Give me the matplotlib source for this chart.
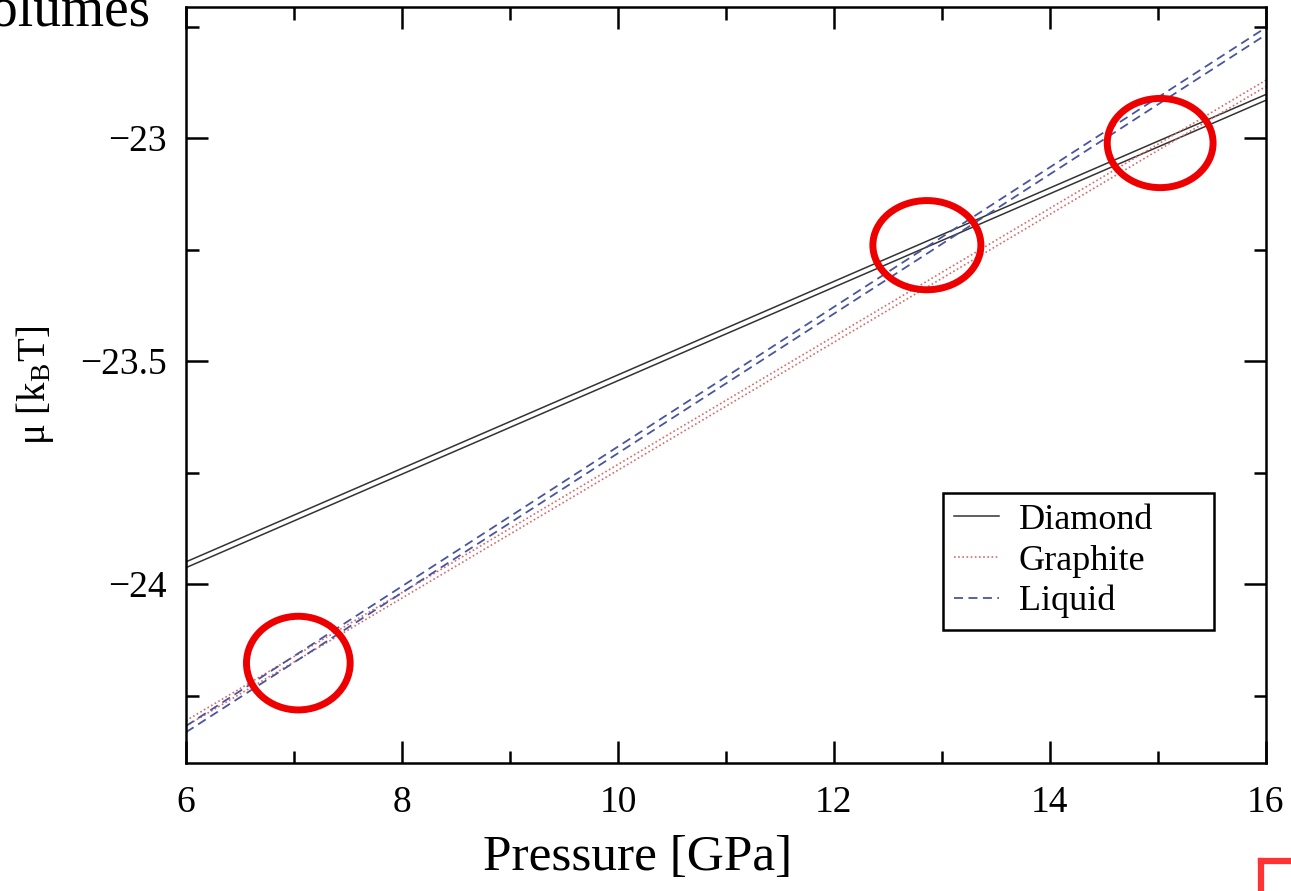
import numpy as np
import matplotlib
matplotlib.use("Agg")
import matplotlib.pyplot as plt
from matplotlib.patches import Ellipse, Rectangle
from matplotlib.lines import Line2D

plt.rcParams['font.family'] = ['Liberation Serif', 'DejaVu Serif']
plt.rcParams['mathtext.fontset'] = 'stix'

# endpoints of each (double) line, pressure in GPa, mu in kBT
pressure = [6, 16]
diamond_hi = [-23.950, -22.902]
diamond_lo = [-23.963, -22.915]
graphite_hi = [-24.306, -22.870]
graphite_lo = [-24.318, -22.884]
liquid_hi = [-24.318, -22.752]
liquid_lo = [-24.332, -22.768]

# highlighted crossings (centre P, centre mu, width, height)
circles = [(7.04, -24.177, 0.96, 0.21),
           (12.86, -23.240, 1.0, 0.20),
           (15.02, -23.011, 0.98, 0.20)]

xticks = [6, 8, 10, 12, 14, 16]
yticks = [-24, -23.5, -23]

fig = plt.figure(figsize=(12.91, 8.91), dpi=100)
ax = fig.add_axes([186 / 1291, 1 - 763 / 891, 1080 / 1291, 756 / 891])

ax.plot(pressure, diamond_hi, color='#333333', lw=1.1, ls='-', label='Diamond')
ax.plot(pressure, diamond_lo, color='#333333', lw=1.1, ls='-')
ax.plot(pressure, graphite_hi, color='#d86a6a', lw=1.2, ls=(0, (1, 1.5)), label='Graphite')
ax.plot(pressure, graphite_lo, color='#d86a6a', lw=1.2, ls=(0, (1, 1.5)))
ax.plot(pressure, liquid_hi, color='#4a55a0', lw=1.3, ls=(0, (5, 3)), label='Liquid')
ax.plot(pressure, liquid_lo, color='#4a55a0', lw=1.3, ls=(0, (5, 3)))

for cx, cy, w, h in circles:
    ax.add_patch(Ellipse((cx, cy), w, h, fill=False, ec='#ee0000', lw=5, zorder=5))

ax.set_xlim(6, 16)
ax.set_ylim(-24.401, -22.706)
ax.set_xticks(xticks)
ax.set_xticks(np.arange(7, 16, 2), minor=True)
ax.set_yticks(yticks)
ax.set_yticks([-24.25, -23.75, -23.25, -22.75], minor=True)
ax.set_yticklabels(['\u221224', '\u221223.5', '\u221223'])
ax.tick_params(which='both', direction='in', top=True, right=True, labelsize=27, width=1.8)
ax.tick_params(which='major', length=16)
ax.tick_params(which='minor', length=9)
ax.tick_params(axis='y', pad=14)
ax.tick_params(axis='x', pad=16)
for s in ax.spines.values():
    s.set_linewidth(1.8)

ax.set_xlabel('Pressure [GPa]', fontsize=37)
ax.xaxis.set_label_coords((638 - 186) / 1080, -0.095)
ax.set_ylabel('\u03bc [k$_{\\mathregular{B}}$T]', fontsize=28)
ax.yaxis.set_label_coords((56 - 186) / 1080, 0.5)

# legend box is wider than its content in the original
box_x0, box_x1 = (943 - 186) / 1080, (1214 - 186) / 1080
box_y0, box_y1 = (763 - 630) / 756, (763 - 493) / 756
ax.add_patch(Rectangle((box_x0, box_y0), box_x1 - box_x0, box_y1 - box_y0,
                       transform=ax.transAxes, fill=True, fc='white', ec='black',
                       lw=1.8, zorder=6))
leg = ax.legend(loc='upper left', bbox_to_anchor=(box_x0, box_y1), fontsize=26,
                frameon=False, handlelength=1.25, handletextpad=0.55,
                borderpad=0.3, labelspacing=0.2, borderaxespad=0)
leg.set_zorder(7)

fig.text(150 / 1291, 1 - 25 / 891, 'Volumes', fontsize=40, ha='right', va='baseline')
fig.add_artist(Line2D([1261 / 1291, 1291 / 1291], [1 - 861 / 891, 1 - 861 / 891],
                      color='#ff3333', lw=4.5))
fig.add_artist(Line2D([1261 / 1291, 1261 / 1291], [1 - 861 / 891, 0],
                      color='#ff3333', lw=4.5))

fig.savefig('out.png', dpi=100)
